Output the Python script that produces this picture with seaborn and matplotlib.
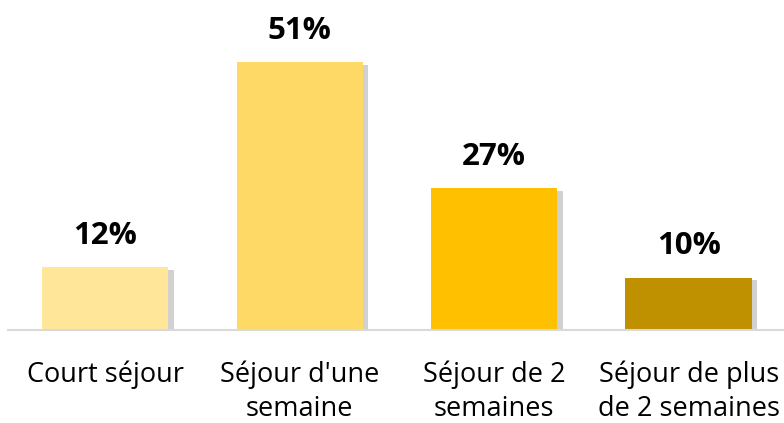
import matplotlib
matplotlib.use("Agg")
import matplotlib.pyplot as plt
import matplotlib.patheffects as pe
import seaborn as sns
import pandas as pd

categories = ["Court séjour", "Séjour d'une\nsemaine", "Séjour de 2\nsemaines", "Séjour de plus\nde 2 semaines"]
values = [12, 51, 27, 10]
colors = ["#FFE699", "#FFD966", "#FFC000", "#BF9000"]

sns.set_theme(style="white")
plt.rcParams['font.family'] = ['Open Sans', 'DejaVu Sans']

df = pd.DataFrame({"cat": categories, "val": values})

fig = plt.figure(figsize=(7.84, 4.23), dpi=100)
ax = fig.add_axes([8/784, 1 - 330/423, 776/784, 330/423])
sns.barplot(data=df, x="cat", y="val", hue="cat", palette=colors, legend=False,
            width=0.65, ax=ax, saturation=1)
for p in ax.patches:
    p.set_path_effects([pe.SimplePatchShadow(offset=(4, -2), shadow_rgbFace="#999999", alpha=0.45), pe.Normal()])
    p.set_linewidth(0)
ax.set_xlim(-0.5, 3.49)
ax.set_ylim(0, 62.86)
for i, v in enumerate(values):
    ax.text(i, v + 6.0, f"{v}%", ha="center", va="center", fontsize=22.5, fontweight="bold", color="#000000")
for s in ["top", "right", "left"]:
    ax.spines[s].set_visible(False)
ax.spines["bottom"].set_color("#D9D9D9")
ax.spines["bottom"].set_linewidth(1.5)
ax.set_yticks([])
ax.set_xlabel("")
ax.set_ylabel("")
ax.tick_params(axis="x", length=0, pad=22, labelsize=19.5, colors="#000000")
for lab in ax.get_xticklabels():
    lab.set_linespacing(1.3)
fig.savefig("out.png", dpi=100)
